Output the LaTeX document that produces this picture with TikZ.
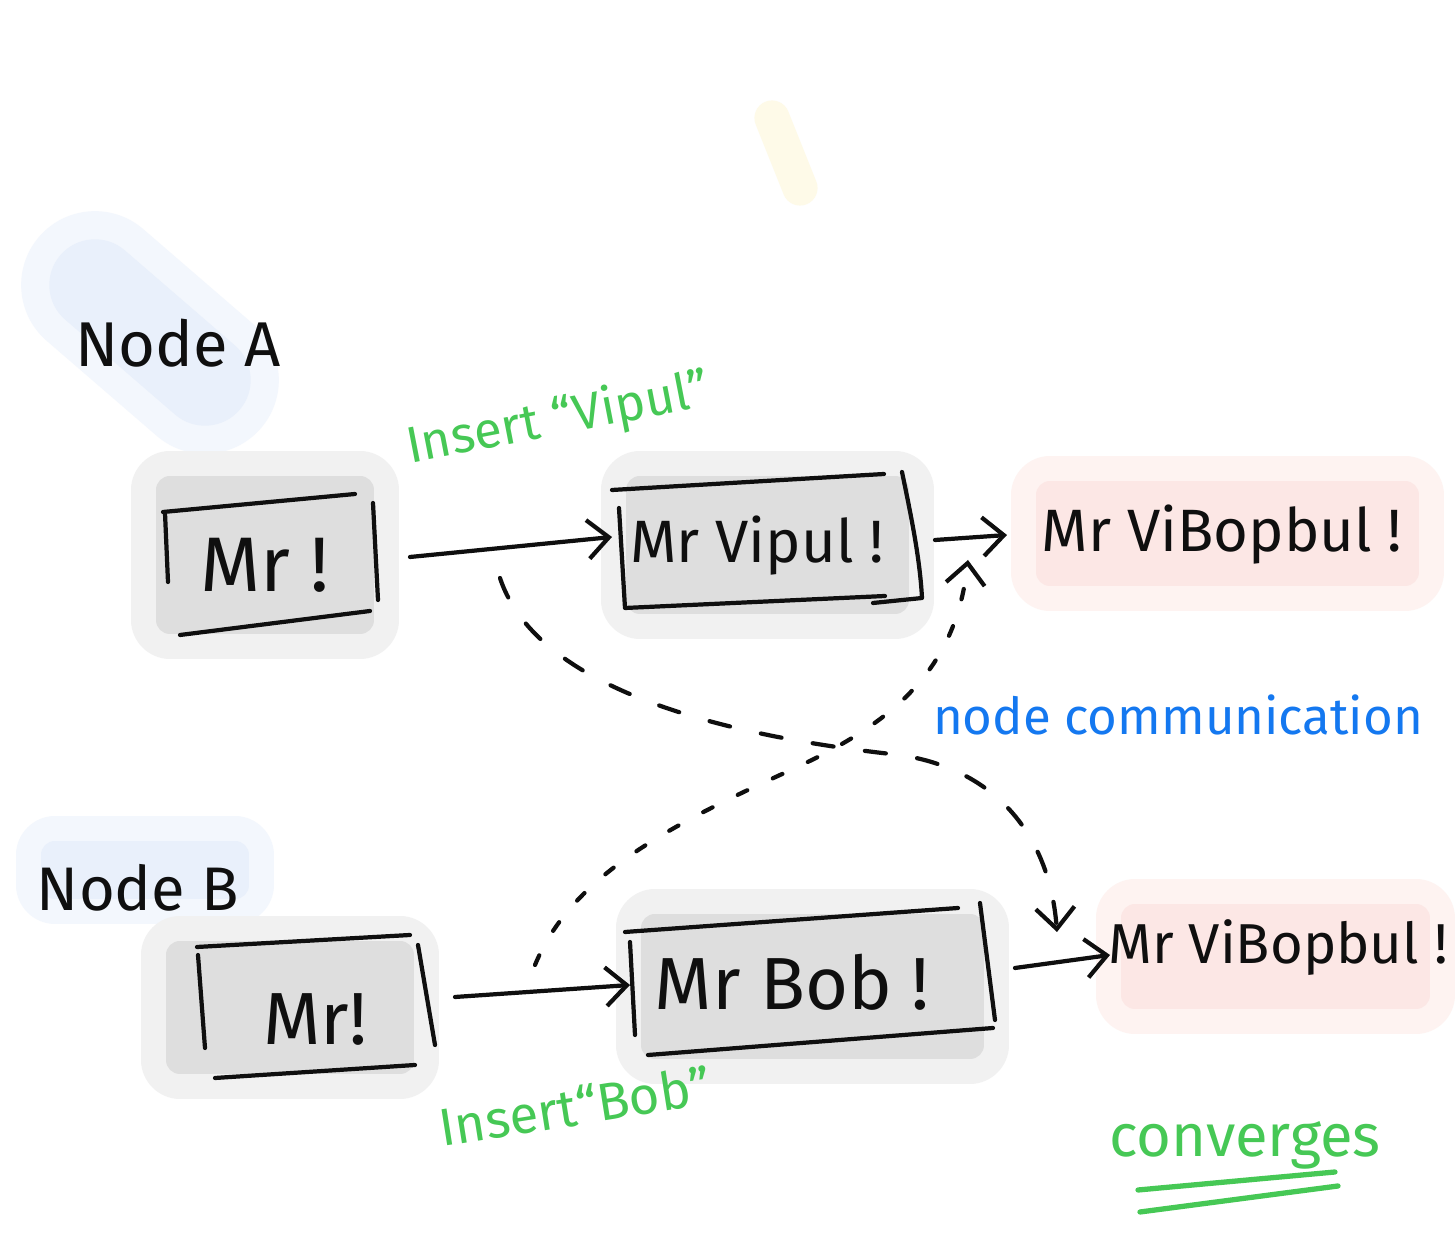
\documentclass[tikz,border=0pt]{standalone}
\usepackage{fontspec}
\setmainfont{Fira Sans}
\usetikzlibrary{arrows.meta,calc}
\definecolor{inkc}{RGB}{15,15,15}
\definecolor{greenc}{RGB}{70,200,85}
\definecolor{bluec}{RGB}{20,120,240}
\definecolor{grayL}{RGB}{241,241,241}
\definecolor{grayD}{RGB}{222,222,222}
\definecolor{pinkL}{RGB}{254,243,241}
\definecolor{pinkD}{RGB}{252,231,229}
\definecolor{blueL}{RGB}{243,247,253}
\definecolor{blueD}{RGB}{233,240,251}
\definecolor{yellowL}{RGB}{254,250,232}
\newcommand\paintblob[6]{%
  \path[draw=#1,fill=#1,line width=22pt,line join=round] (#3+40,#4+40) rectangle (#5-40,#6-40);
  \path[draw=#2,fill=#2,line width=8pt,line join=round] (#3+40,#4+40) rectangle (#5-40,#6-40);
}
\begin{document}
\begin{tikzpicture}[x=0.01cm,y=-0.01cm,
  ink/.style={draw=inkc,line width=1.2pt,line cap=round,line join=round},
  arr/.style={ink,-{Straight Barb[length=6pt,width=11pt]}},
  dashcurve/.style={ink,dash pattern=on 6pt off 9pt,-{Straight Barb[length=6pt,width=11pt]}},
  dotcurve/.style={ink,dash pattern=on 3pt off 8pt,-{Straight Barb[length=6pt,width=11pt]}},
  lbl/.style={inner sep=0pt,text=inkc},
  glbl/.style={inner sep=0pt,text=greenc},
  gline/.style={draw=greenc,line width=1.5pt,line cap=round}]
% background / bounding box
\fill[white] (0,0) rectangle (1456,1246);
\useasboundingbox (0,0) rectangle (1456,1246);

% soft highlight blobs
\draw[blueL,line width=42pt,line cap=round] (95,285) -- (205,380);
\draw[blueD,line width=26pt,line cap=round] (95,285) -- (205,380);
\draw[yellowL,line width=10pt,line cap=round] (772,118) -- (800,188);
\paintblob{blueL}{blueD}{15}{815}{275}{925}
\paintblob{grayL}{grayD}{130}{450}{400}{660}
\paintblob{grayL}{grayD}{600}{450}{935}{640}
\paintblob{grayL}{grayD}{140}{915}{440}{1100}
\paintblob{grayL}{grayD}{615}{888}{1010}{1085}
\paintblob{pinkL}{pinkD}{1010}{455}{1445}{612}
\paintblob{pinkL}{pinkD}{1095}{878}{1456}{1035}

% ---------- Node A ----------
\node[lbl,font=\fontsize{18}{22}\selectfont] (nodeA) at (178,343) {Node A};
\node[glbl,font=\fontsize{14.5}{17}\selectfont,rotate=11] (insA) at (558,420) {Insert ``Vipul''};

% box A1
\draw[ink] (163,512) -- (355,494);
\draw[ink] (165,513) -- (168,582);
\draw[ink] (373,503) -- (378,600);
\draw[ink] (180,635) -- (370,611);
\node[lbl,font=\fontsize{22}{26}\selectfont] (boxA1) at (265,565) {Mr !};

% box A2
\draw[ink] (612,490) -- (884,474);
\draw[ink] (619,508) -- (625,608) -- (885,596);
\draw[ink] (902,472) .. controls (912,520) and (920,560) .. (922,598) -- (873,603);
\node[lbl,font=\fontsize{17}{20}\selectfont] (boxA2) at (757,546) {Mr Vipul !};

% result A
\node[lbl,font=\fontsize{17}{20}\selectfont] (resA) at (1222,535) {Mr ViBopbul !};

% ---------- Node B ----------
\node[lbl,font=\fontsize{17.5}{21}\selectfont] (nodeB) at (138,888) {Node B};

% box B1
\draw[ink] (197,947) -- (410,935);
\draw[ink] (198,955) -- (205,1048);
\draw[ink] (418,945) -- (435,1045);
\draw[ink] (215,1078) -- (415,1065);
\node[lbl,font=\fontsize{21}{25}\selectfont] (boxB1) at (315,1020) {Mr!};

% box B2
\draw[ink] (625,932) -- (958,908);
\draw[ink] (630,942) -- (635,1035);
\draw[ink] (980,903) -- (995,1020);
\draw[ink] (648,1055) -- (993,1028);
\node[lbl,font=\fontsize{21}{25}\selectfont] (boxB2) at (792,982) {Mr Bob !};

% result B
\node[lbl,font=\fontsize{16}{19}\selectfont] (resB) at (1278,948) {Mr ViBopbul !};

\node[glbl,font=\fontsize{15}{18}\selectfont,rotate=9] (insB) at (575,1106) {Insert``Bob''};

% labels
\node[inner sep=0pt,text=bluec,font=\fontsize{14.5}{17}\selectfont] (comm) at (1178,715) {node communication};
\node[glbl,font=\fontsize{17}{20}\selectfont] (conv) at (1245,1145) {converges};
\coordinate (u1a) at (1138,1190); \coordinate (u1b) at (1335,1172);
\coordinate (u2a) at (1140,1212); \coordinate (u2b) at (1338,1186);
\draw[gline] (u1a) -- (u1b);
\draw[gline] (u2a) -- (u2b);

% ---------- connectors ----------
\coordinate (a1s) at (410,557); \coordinate (a1e) at (612,537);
\coordinate (a2s) at (935,540); \coordinate (a2e) at (1007,535);
\coordinate (b1s) at (455,997); \coordinate (b1e) at (630,985);
\coordinate (b2s) at (1015,968); \coordinate (b2e) at (1110,955);
\draw[arr] (a1s) -- (a1e);
\draw[arr] (a2s) -- (a2e);
\draw[arr] (b1s) -- (b1e);
\draw[arr] (b2s) -- (b2e);

% dashed: from node A to node B result
\coordinate (dA) at (500,578);
\coordinate (dM) at (900,755);
\coordinate (dB) at (1057,932);
\draw[dashcurve] (dA) .. controls (540,700) and (760,740) .. (dM)
  .. controls (1000,770) and (1050,840) .. (dB);

% dotted: from node B to node A result
\coordinate (cA) at (535,965);
\coordinate (cM) at (780,775);
\coordinate (cB) at (968,560);
\draw[dotcurve] (cA) .. controls (570,880) and (660,830) .. (cM)
  .. controls (880,730) and (955,680) .. (cB);
\end{tikzpicture}
\end{document}
